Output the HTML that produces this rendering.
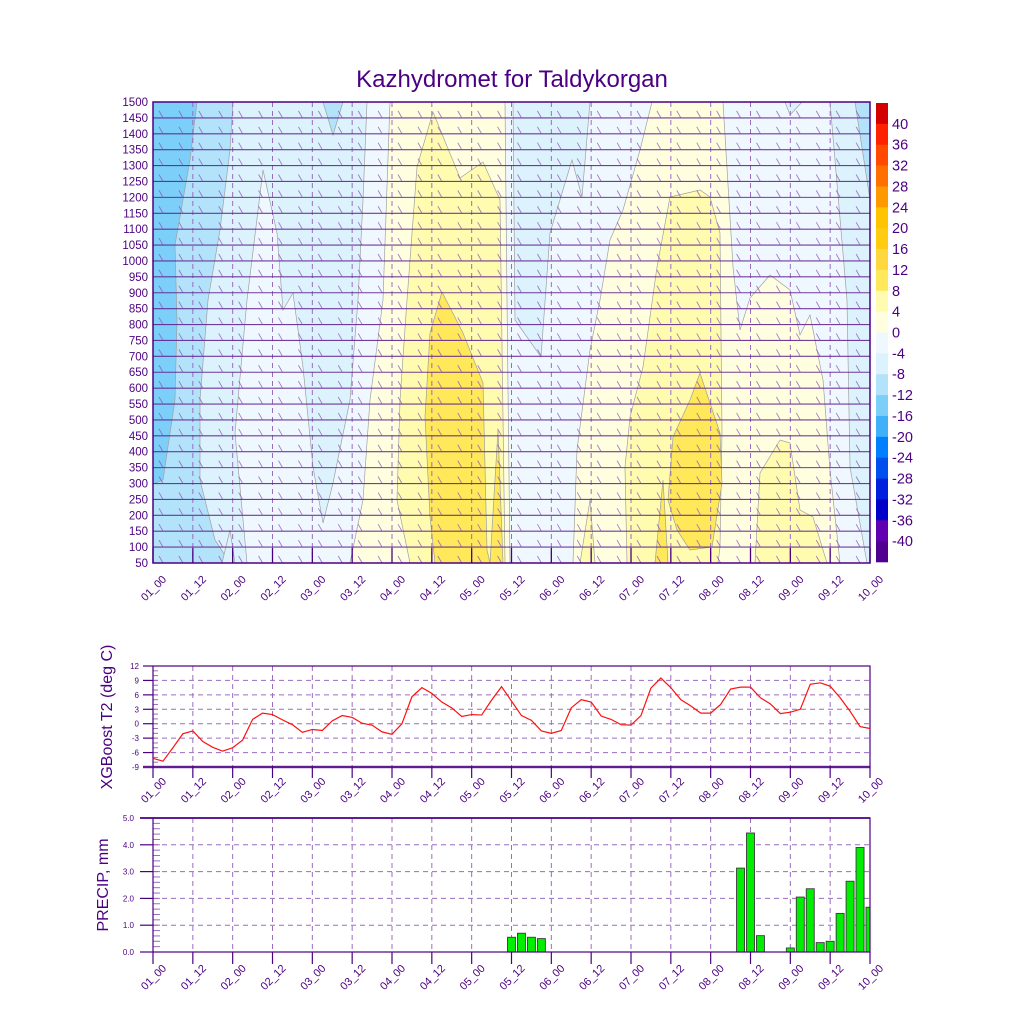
<!DOCTYPE html>
<html><head><meta charset="utf-8"><style>
html,body{margin:0;padding:0;background:#fff;}
svg{display:block;font-family:"Liberation Sans",sans-serif;}
</style></head><body>
<svg id="c" width="1024" height="1024" viewBox="0 0 1024 1024" xmlns="http://www.w3.org/2000/svg">
<defs>
<clipPath id="clipTop"><rect x="153" y="102" width="717" height="461"/></clipPath>
<clipPath id="clipP"><rect x="153" y="818" width="717" height="134"/></clipPath>
</defs>
<text x="512" y="87" text-anchor="middle" font-size="24" fill="#4b0082">Kazhydromet for Taldykorgan</text>
<g id="topPanel"></g>
<g id="cbar"></g>
<g id="t2"></g>
<g id="pr"></g>
</svg>
<script>
// ---- data ----
const xLabels=["01_00","01_12","02_00","02_12","03_00","03_12","04_00","04_12","05_00","05_12","06_00","06_12","07_00","07_12","08_00","08_12","09_00","09_12","10_00"];
const heightTicks=[50,100,150,200,250,300,350,400,450,500,550,600,650,700,750,800,850,900,950,1000,1050,1100,1150,1200,1250,1300,1350,1400,1450,1500];
const t2Values=[-7.2,-7.8,-5.0,-2.1,-1.5,-3.7,-4.9,-5.7,-5.0,-3.4,0.9,2.2,1.9,0.8,-0.2,-1.8,-1.2,-1.4,0.6,1.7,1.3,0.1,-0.3,-1.7,-2.2,0.0,5.6,7.5,6.3,4.5,3.3,1.5,1.9,1.8,4.9,7.7,4.7,1.7,0.7,-1.5,-2.0,-1.4,3.3,5.0,4.5,1.6,0.9,-0.2,-0.3,1.7,7.4,9.5,7.5,5.0,3.7,2.2,2.2,4.0,7.2,7.6,7.6,5.4,4.1,2.1,2.4,3.0,8.2,8.5,7.8,5.4,2.6,-0.6,-1.0];
const t2Ticks=[12,9,6,3,0,-3,-6,-9];
const precipValues=[0,0,0,0,0,0,0,0,0,0,0,0,0,0,0,0,0,0,0,0,0,0,0,0,0,0,0,0,0,0,0,0,0,0,0,0,0.55,0.7,0.55,0.5,0,0,0,0,0,0,0,0,0,0,0,0,0,0,0,0,0,0,0,3.13,4.44,0.61,0,0,0.15,2.05,2.36,0.35,0.4,1.44,2.64,3.9,1.67];
const precipTicks=[0,1,2,3,4,5];
const cbarLabels=[40,36,32,28,24,20,16,12,8,4,0,-4,-8,-12,-16,-20,-24,-28,-32,-36,-40];
const cbarColors=["#d40000","#ff2200","#ff4a00","#ff7000","#ff9900","#ffc400","#ffcc10","#ffd840","#ffe85a","#fffcb0","#ffffe0","#f0f8ff","#dcf2fc","#b3e3fa","#7ccff8","#40b0f8","#0080ff","#0050f0","#0020e0","#0000c8","#6000b0","#500090"];
// contour fill shapes (approx., plot pixel space)
const contourShapes=[
 {c:"#dcf2fc",p:[[153,102],[367,102],[363,200],[358,300],[350,400],[333,483],[323,523],[313,467],[303,367],[293,293],[283,310],[277,233],[263,170],[247,300],[235,433],[247,563],[153,563]]},
 {c:"#b3e3fa",p:[[153,102],[233,102],[230,150],[220,230],[208,300],[200,400],[200,480],[215,540],[230,563],[153,563]]},
 {c:"#dcf2fc",p:[[222,563],[230,530],[235,563]]},
 {c:"#b3e3fa",p:[[323,102],[343,102],[333,135]]},
 {c:"#7ccff8",p:[[153,102],[197,102],[190,160],[175,245],[177,320],[175,400],[163,480],[153,484]]},
 {c:"#ffffe0",p:[[390,102],[505,102],[507,300],[510,563],[350,563],[363,500],[370,400],[383,300]]},
 {c:"#fffcb0",p:[[433,112],[460,178],[483,162],[500,200],[505,563],[410,563],[397,500],[400,400],[407,300],[417,167]]},
 {c:"#ffe85a",p:[[442,292],[463,333],[483,383],[487,550],[490,563],[435,563],[430,517],[425,417],[430,333]]},
 {c:"#ffe85a",p:[[498,430],[503,563],[490,563]]},
 {c:"#dcf2fc",p:[[513,102],[590,102],[582,197],[572,160],[550,233],[541,357],[515,320]]},
 {c:"#ffffe0",p:[[577,563],[590,490],[595,563]]},
 {c:"#ffffe0",p:[[652,102],[723,102],[733,267],[740,330],[750,298],[770,275],[790,290],[800,335],[810,315],[823,380],[830,470],[840,563],[573,563],[577,450],[590,350],[600,300],[610,240],[623,210],[640,150]]},
 {c:"#fffcb0",p:[[670,197],[700,190],[710,197],[720,233],[722,433],[720,547],[718,563],[627,563],[625,467],[630,417],[643,367],[657,267]]},
 {c:"#fffcb0",p:[[755,563],[760,473],[780,440],[790,443],[800,510],[813,517],[827,563]]},
 {c:"#fffcb0",p:[[580,563],[590,500],[595,563]]},
 {c:"#ffe85a",p:[[700,373],[720,433],[722,483],[712,547],[690,550],[677,530],[668,500],[673,437],[690,400]]},
 {c:"#ffe85a",p:[[663,480],[668,563],[655,563]]},
 {c:"#dcf2fc",p:[[785,102],[802,102],[790,115]]},
 {c:"#dcf2fc",p:[[830,102],[870,102],[870,563],[867,563],[850,467],[847,300]]},
 {c:"#b3e3fa",p:[[855,102],[870,102],[870,200]]}
];
// ---- scales ----
const X0=153,X1=870;
function xT(hour){return X0+hour/216*(X1-X0);}
function yH(h){return 563-(h-50)/1450*461;}
function yT(v){return 666+(12-v)/21*101;}
function yP(v){return 952-v/5*134;}
const NS="http://www.w3.org/2000/svg";
function mk(tag,attrs,parent){const e=document.createElementNS(NS,tag);for(const k in attrs)e.setAttribute(k,attrs[k]);parent.appendChild(e);return e;}
const PUR="#4b0082",GRID="#9a6cc0";

// ---- top panel ----
const topG=document.getElementById('topPanel');
mk('rect',{x:153,y:102,width:717,height:461,fill:"#f0f8ff"},topG);
const cg=mk('g',{'clip-path':'url(#clipTop)'},topG);
contourShapes.forEach(s=>{
 const pg=mk('polygon',{points:s.p.map(q=>q.join(',')).join(' '),fill:s.c,stroke:"#a0a0a0","stroke-width":0.7},cg);
 
 
});
xLabels.forEach((l,k)=>{
 const x=xT(k*12);
 mk('line',{x1:x,y1:102,x2:x,y2:563,stroke:GRID,"stroke-width":1,"stroke-dasharray":"5,4"},cg);
 mk('line',{x1:x,y1:548,x2:x,y2:563,stroke:PUR,"stroke-width":1.3},topG);
});
const bg=mk('g',{stroke:"#8a50b8","stroke-width":0.9,"stroke-opacity":0.75},cg);
heightTicks.forEach(h=>{
 const y=yH(h);
 mk('line',{x1:153,y1:y,x2:870,y2:y,stroke:"#5a1a8a","stroke-width":1.1,"stroke-opacity":0.85},bg);
 for(let i=0;i<37;i++){const x=xT(i*6)+10;mk('line',{x1:x-4,y1:y-7,x2:x,y2:y},bg);}
});
mk('rect',{x:153,y:102,width:717,height:461,fill:"none",stroke:PUR,"stroke-width":1.5},topG);
heightTicks.forEach(h=>{
 const t=mk('text',{x:148,y:yH(h)+4,"text-anchor":"end","font-size":11.5,fill:PUR},topG);t.textContent=h;
 
 
});
function xlab(parent,yEnd,name){
 xLabels.forEach((l,k)=>{
  const x=xT(k*12)+14;
  const t=mk('text',{x:x,y:yEnd,"text-anchor":"end","font-size":11,fill:PUR,transform:`rotate(-45 ${x} ${yEnd})`},parent);
  t.textContent=l;
  
  
 });
}
xlab(topG,580,'time-tick-label');

// ---- colorbar ----
const cb=document.getElementById('cbar');
const bh=459/22;
cbarColors.forEach((c,i)=>{mk('rect',{x:876,y:103+i*bh,width:12,height:bh+0.3,fill:c},cb);});
cbarLabels.forEach((v,i)=>{
 const t=mk('text',{x:892,y:103+(i+1)*bh+5,"font-size":14.5,fill:PUR},cb);t.textContent=v;
 
 
});

// ---- T2 chart ----
const t2g=document.getElementById('t2');
t2Ticks.forEach(v=>{
 const y=yT(v);
 if(v>-9&&v<12)mk('line',{x1:153,y1:y,x2:870,y2:y,stroke:GRID,"stroke-dasharray":"5,4"},t2g);
 mk('line',{x1:143,y1:y,x2:153,y2:y,stroke:PUR,"stroke-width":1.2},t2g);
 const t=mk('text',{x:139,y:y+3,"text-anchor":"end","font-size":8,fill:PUR},t2g);t.textContent=v;
});
for(let v=-9;v<=12;v+=1){mk('line',{x1:153,y1:yT(v),x2:158,y2:yT(v),stroke:GRID,"stroke-width":1},t2g);}
xLabels.forEach((l,k)=>{const x=xT(k*12);
 if(k>0&&k<18)mk('line',{x1:x,y1:666,x2:x,y2:767,stroke:GRID,"stroke-dasharray":"5,4"},t2g);
 mk('line',{x1:x,y1:767,x2:x,y2:778,stroke:PUR,"stroke-width":1.2},t2g);});
mk('rect',{x:153,y:666,width:717,height:101,fill:"none",stroke:PUR,"stroke-width":1.2},t2g);
mk('line',{x1:143,y1:767,x2:870,y2:767,stroke:PUR,"stroke-width":2.5,"stroke-opacity":0.7},t2g);
const ln=mk('polyline',{points:t2Values.map((v,i)=>xT(i*3)+','+yT(v)).join(' '),fill:"none",stroke:"#ff1010","stroke-width":1.2},t2g);


const yt=mk('text',{x:112,y:717,"text-anchor":"middle","font-size":16,fill:PUR,transform:"rotate(-90 112 717)"},t2g);yt.textContent="XGBoost T2 (deg C)";


xlab(t2g,782,'t2-time-tick-label');

// ---- precip chart ----
const prg=document.getElementById('pr');
precipTicks.forEach(v=>{
 const y=yP(v);
 if(v>0&&v<5)mk('line',{x1:153,y1:y,x2:870,y2:y,stroke:GRID,"stroke-dasharray":"5,4"},prg);
 mk('line',{x1:140,y1:y,x2:153,y2:y,stroke:PUR,"stroke-width":1.2},prg);
 const t=mk('text',{x:134,y:y+3,"text-anchor":"end","font-size":8,fill:PUR},prg);t.textContent=v.toFixed(1);
});
for(let v=0;v<=5;v+=0.2){mk('line',{x1:153,y1:yP(v),x2:160,y2:yP(v),stroke:GRID,"stroke-width":1},prg);}
xLabels.forEach((l,k)=>{const x=xT(k*12);
 if(k>0&&k<18)mk('line',{x1:x,y1:818,x2:x,y2:952,stroke:GRID,"stroke-dasharray":"5,4"},prg);
 mk('line',{x1:x,y1:952,x2:x,y2:964,stroke:PUR,"stroke-width":1.2},prg);});
const barG=mk('g',{'clip-path':'url(#clipP)'},prg);
precipValues.forEach((v,i)=>{
 if(v<=0)return;
 const x=xT(i*3)-4;
 const b=mk('rect',{x:x,y:yP(v),width:8,height:952-yP(v),fill:"#00ee00",stroke:"#3a3a3a","stroke-width":0.9},barG);
 
 
});
mk('rect',{x:153,y:818,width:717,height:134,fill:"none",stroke:PUR,"stroke-width":1.2},prg);
mk('line',{x1:140,y1:818,x2:870,y2:818,stroke:PUR,"stroke-width":2,"stroke-opacity":0.7},prg);
const pt=mk('text',{x:108,y:885,"text-anchor":"middle","font-size":16,fill:PUR,transform:"rotate(-90 108 885)"},prg);pt.textContent="PRECIP, mm";


xlab(prg,969,'precip-time-tick-label');
</script>
</body></html>
